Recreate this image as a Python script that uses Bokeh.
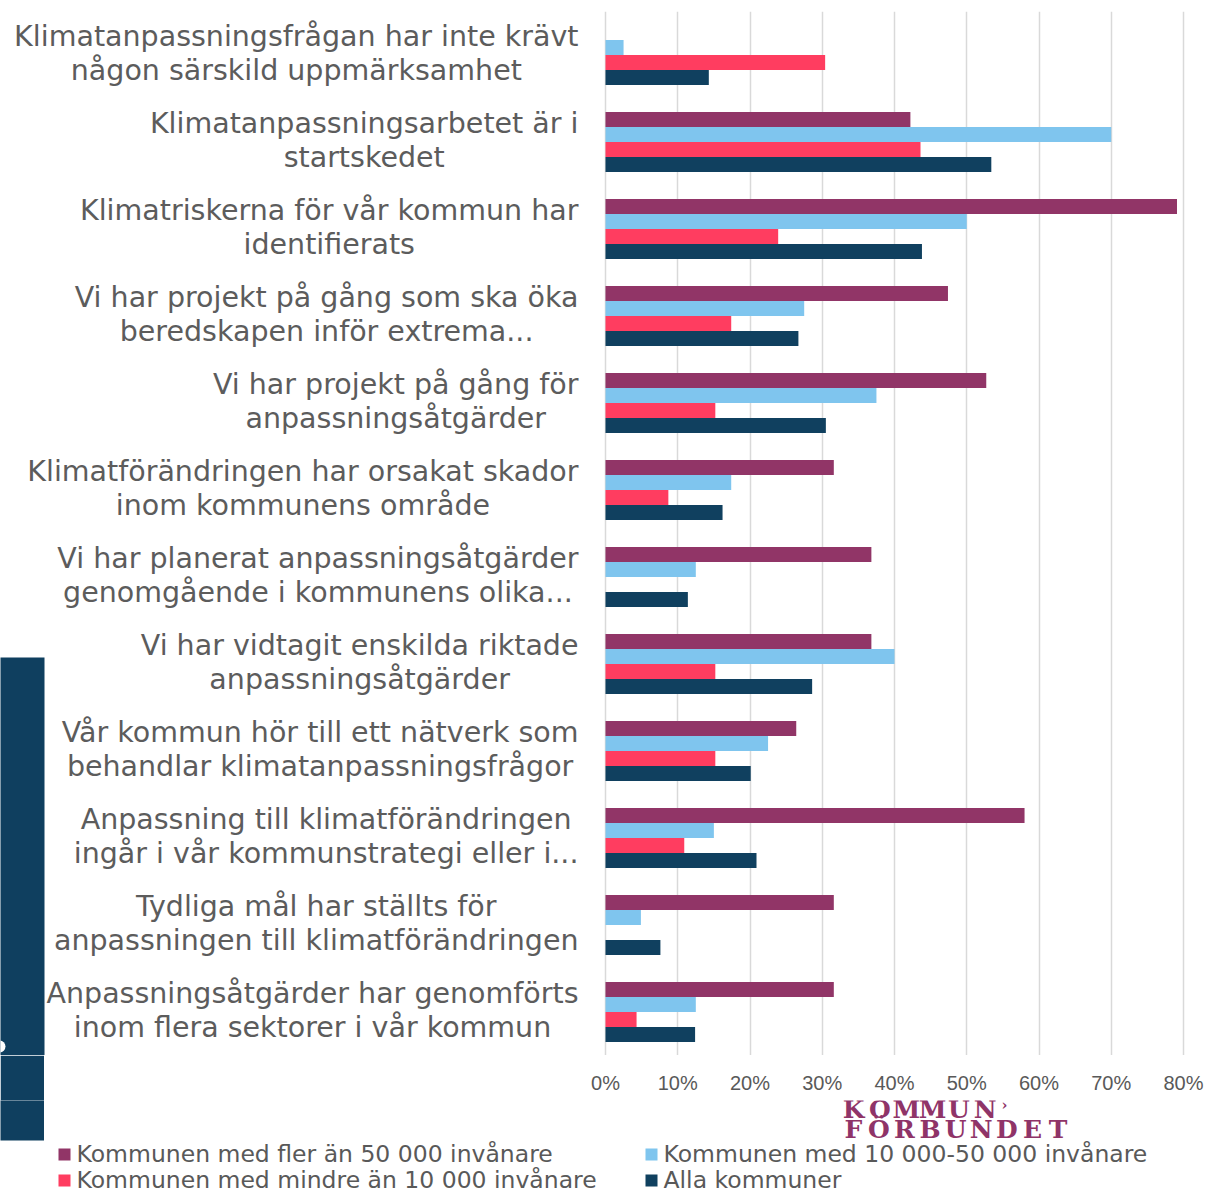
import subprocess
from bokeh.plotting import figure
from bokeh.layouts import row, column
from bokeh.models import ColumnDataSource, FactorRange, Range1d, FixedTicker
from bokeh.transform import dodge
from bokeh.core.properties import value
from bokeh.embed import file_html
from bokeh.resources import INLINE

# ---------------- data ----------------
categories = [
    "Klimatanpassningsfrågan har inte krävt\nnågon särskild uppmärksamhet",
    "Klimatanpassningsarbetet är i\nstartskedet",
    "Klimatriskerna för vår kommun har\nidentifierats",
    "Vi har projekt på gång som ska öka\nberedskapen inför extrema...",
    "Vi har projekt på gång för\nanpassningsåtgärder",
    "Klimatförändringen har orsakat skador\ninom kommunens område",
    "Vi har planerat anpassningsåtgärder\ngenomgående i kommunens olika...",
    "Vi har vidtagit enskilda riktade\nanpassningsåtgärder",
    "Vår kommun hör till ett nätverk som\nbehandlar klimatanpassningsfrågor",
    "Anpassning till klimatförändringen\ningår i vår kommunstrategi eller i...",
    "Tydliga mål har ställts för\nanpassningen till klimatförändringen",
    "Anpassningsåtgärder har genomförts\ninom flera sektorer i vår kommun",
]
series_names = [
    "Kommunen med fler än 50 000 invånare",
    "Kommunen med 10 000-50 000 invånare",
    "Kommunen med mindre än 10 000 invånare",
    "Alla kommuner",
]
over_50k = [0.0, 42.2, 79.1, 47.4, 52.7, 31.6, 36.8, 36.8, 26.4, 58.0, 31.6, 31.6]
from_10k_50k = [2.5, 70.0, 50.0, 27.5, 37.5, 17.4, 12.5, 40.0, 22.5, 15.0, 4.9, 12.5]
under_10k = [30.4, 43.6, 23.9, 17.4, 15.2, 8.7, 0.0, 15.2, 15.2, 10.9, 0.0, 4.3]
all_municipalities = [14.3, 53.4, 43.8, 26.7, 30.5, 16.2, 11.4, 28.6, 20.1, 20.9, 7.6, 12.4]
x_ticks = [0, 10, 20, 30, 40, 50, 60, 70, 80]
tick_labels = ["0%", "10%", "20%", "30%", "40%", "50%", "60%", "70%", "80%"]
logo_lines = ["KOMMUN", "FÖRBUNDET"]

colors = ["#913567", "#7fc5ee", "#ff3d60", "#10405f"]
PANEL = "#0f3f5f"
TEXT = "#5c5c5c"
TICK = "#595959"
LOGO = "#8f3468"
LABEL_FONT = "DejaVu Sans"

# ---------------- layout constants (page px) ----------------
PAGE_W, PAGE_H = 1206, 1192
STRIP_W = 44                          # dark strip on the left
STRIP_TOP, STRIP_BOTTOM = 657, 1140
FRAME_LEFT, FRAME_RIGHT = 605, 1183   # 0 % and 80 %
FRAME_TOP, FRAME_BOTTOM = 11, 1055
AXIS_H = 45                           # tick-label band under the bars
N = len(categories)
CAT_PX = (FRAME_BOTTOM - FRAME_TOP) / N
XMAX = x_ticks[-1]
PX2X = XMAX / (FRAME_RIGHT - FRAME_LEFT)


def px_x(px):
    return (px - FRAME_LEFT) * PX2X


def px_y(py):
    return (FRAME_BOTTOM - py) / CAT_PX


_font_cache = {}


def text_width(s, family, size):
    try:
        from PIL import ImageFont
        key = (family, size)
        if key not in _font_cache:
            path = subprocess.run(["fc-match", "-f", "%{file}", family],
                                  capture_output=True, text=True, timeout=10).stdout.strip()
            _font_cache[key] = ImageFont.truetype(path, size)
        return _font_cache[key].getlength(s)
    except Exception:
        return len(s) * size * 0.6


# ---------------- main chart (bars + category labels) ----------------
p = figure(width=PAGE_W, height=FRAME_BOTTOM, output_backend="svg", toolbar_location=None,
           y_range=FactorRange(factors=categories[::-1]),
           x_range=Range1d(px_x(0), px_x(PAGE_W)),
           min_border_left=0, min_border_right=0,
           min_border_top=FRAME_TOP, min_border_bottom=0)
p.outline_line_color = None
p.background_fill_color = "white"
p.border_fill_color = "white"
p.xaxis.visible = False
p.yaxis.visible = False
p.ygrid.visible = False
p.xgrid.ticker = FixedTicker(ticks=x_ticks)
p.xgrid.grid_line_color = "#d9d9d9"
p.xgrid.grid_line_width = 1.5
p.xgrid.level = "underlay"

src = ColumnDataSource(dict(cat=categories, s0=over_50k, s1=from_10k_50k,
                            s2=under_10k, s3=all_municipalities))
bar_h = 15 / CAT_PX
offsets = [1.5 * bar_h, 0.5 * bar_h, -0.5 * bar_h, -1.5 * bar_h]
for k, col in enumerate(["s0", "s1", "s2", "s3"]):
    p.hbar(y=dodge("cat", offsets[k], range=p.y_range), left=0, right=col,
           height=bar_h, source=src, fill_color=colors[k], line_color=None)

# dark strip (upper part, runs past the frame edge) and the white dot cut by the edge
p.quad(left=[px_x(-2)], right=[px_x(STRIP_W)], top=[px_y(STRIP_TOP)],
       bottom=[px_y(FRAME_BOTTOM + 6)], fill_color=PANEL, line_color=None, level="underlay")
p.scatter(x=[px_x(-1)], y=[px_y(1046)], size=12, marker="circle", fill_color="white",
          line_color=None)

# category labels (two centred lines, block right-aligned at x=578)
CAT_SIZE = 28.5
LINE_GAP = 17
lx, ly, lt = [], [], []
for i, c in enumerate(categories):
    lines = c.split("\n")
    maxw = max(text_width(s, LABEL_FONT, CAT_SIZE) for s in lines)
    cx = 578 - maxw / 2
    center_py = FRAME_TOP + (i + 0.5) * CAT_PX - 2
    nl = len(lines)
    for j, s in enumerate(lines):
        py = center_py + (j - (nl - 1) / 2) * 2 * LINE_GAP
        lx.append(px_x(cx))
        ly.append(px_y(py))
        lt.append(s)
p.text(x="x", y="y", text="t", source=ColumnDataSource(dict(x=lx, y=ly, t=lt)),
       text_align="center", text_baseline="middle", text_font=value(LABEL_FONT),
       text_font_size=value(f"{CAT_SIZE}px"), text_color=TEXT)

# ---------------- lower band: strip + (axis, legend, logo) ----------------
LOW_H = PAGE_H - FRAME_BOTTOM
LOW_TOP = FRAME_BOTTOM + AXIS_H

# strip piece: its top border (same height as the axis band) is filled dark
s = figure(width=STRIP_W, height=LOW_H, output_backend="svg", toolbar_location=None,
           x_range=Range1d(0, STRIP_W), y_range=Range1d(PAGE_H, LOW_TOP),
           min_border_left=0, min_border_right=0, min_border_bottom=0,
           min_border_top=AXIS_H)
s.outline_line_color = None
s.xaxis.visible = False
s.yaxis.visible = False
s.xgrid.visible = False
s.ygrid.visible = False
s.border_fill_color = PANEL
s.background_fill_color = "white"
s.quad(left=[-2], right=[STRIP_W + 2], top=[LOW_TOP - 6], bottom=[STRIP_BOTTOM],
       fill_color=PANEL, line_color=None)

b = figure(width=PAGE_W - STRIP_W, height=LOW_H, output_backend="svg", toolbar_location=None,
           x_range=Range1d(px_x(STRIP_W), px_x(PAGE_W)),
           y_range=Range1d(PAGE_H, LOW_TOP),
           x_axis_location="above",
           min_border_left=0, min_border_right=0, min_border_bottom=0,
           min_border_top=AXIS_H)
b.outline_line_color = None
b.border_fill_color = "white"
b.background_fill_color = "white"
b.yaxis.visible = False
b.xgrid.visible = False
b.ygrid.visible = False
ax = b.xaxis[0]
ax.ticker = FixedTicker(ticks=x_ticks)
ax.major_label_overrides = {t: l for t, l in zip(x_ticks, tick_labels)}
ax.axis_line_color = None
ax.major_tick_line_color = None
ax.minor_tick_line_color = None
ax.major_tick_out = 0
ax.major_tick_in = 0
ax.major_label_standoff = 7
ax.major_label_text_font = "Liberation Sans"
ax.major_label_text_font_size = "20px"
ax.major_label_text_color = TICK

leg_x = [58, 645, 58, 645]
leg_mid = [1154, 1154, 1180, 1180]
b.quad(left=[px_x(v) for v in leg_x], right=[px_x(v + 12) for v in leg_x],
       top=[v - 6 for v in leg_mid], bottom=[v + 6 for v in leg_mid],
       fill_color=colors, line_color=None)
b.text(x=[px_x(v + 18) for v in leg_x], y=[v - 1 for v in leg_mid], text=series_names,
       text_align="left", text_baseline="middle", text_font=value(LABEL_FONT),
       text_font_size=value("23.5px"), text_color=TICK)

lg_x, lg_y, lg_t = [], [], []
for word, start, adv, mid in [(logo_lines[0], 840, 26.3, 1109), (logo_lines[1], 840, 25.6, 1129)]:
    for j, ch in enumerate(word):
        lg_x.append(px_x(start + (j + 0.5) * adv))
        lg_y.append(mid)
        lg_t.append(ch)
b.text(x=lg_x, y=lg_y, text=lg_t, text_align="center", text_baseline="middle",
       text_font=value("DejaVu Serif"), text_font_style="bold",
       text_font_size=value("25px"), text_color=LOGO)
b.text(x=[px_x(1004)], y=[1104], text=["›"], text_align="center", text_baseline="middle",
       text_font=value("DejaVu Serif"), text_font_style="bold",
       text_font_size=value("15px"), text_color=LOGO)

layout = column(p, row(s, b, spacing=0), spacing=0)
open("out.html", "w").write(file_html(layout, INLINE))
